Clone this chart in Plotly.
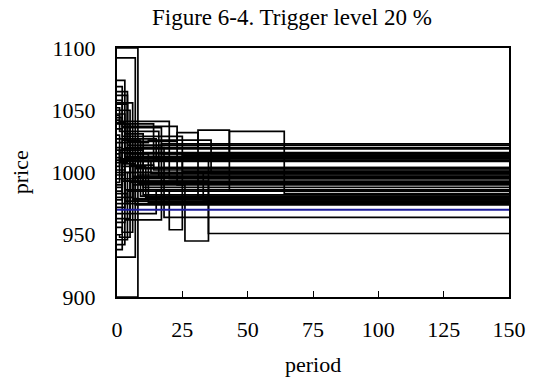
import plotly.graph_objects as go

# Each black series: switch periods and the price held from that period on (held until period 150)
switch_periods = [
    [0, 8], [0, 7], [0, 3], [0, 2], [0, 4], [0, 6], [0, 5],
    [0, 1, 20], [0, 2, 23], [0, 4, 23, 31], [0, 3, 31, 43], [0, 5, 43, 64],
    [0, 2, 25], [0, 15], [0, 12, 36],
    [0, 8], [0, 7], [0, 2], [0, 3], [0, 4], [0, 1, 5], [0, 2, 6], [0, 5],
    [0, 15], [0, 3, 17], [0, 4, 20, 25], [0, 6, 26, 35], [0, 3, 35], [0, 2, 33],
    [0, 1, 10], [0, 2, 9], [0, 1, 6], [0, 3, 12], [0, 2, 7], [0, 5, 14],
    [0, 4, 18], [0, 1], [0, 2], [0, 1, 8], [0, 3], [0, 2, 11], [0, 4], [0, 6],
    [0, 1, 13], [0, 3], [0, 2],
    [0, 1, 14], [0, 2, 17], [0, 3, 10], [0, 1, 16], [0, 4, 9],
]
prices = [
    [1100, 1000], [1092, 1004], [1074, 1013], [1069, 1019], [1062, 1009], [1056, 996], [1050, 992],
    [1046, 1041, 995], [1044, 1037, 990], [1055, 1025, 1032, 980], [1047, 1020, 1034, 986], [1039, 1010, 1033, 983],
    [1035, 1029, 1001], [1027, 1010], [1024, 1026, 999],
    [900, 998], [932, 1003], [938, 1016], [942, 1012], [946, 1000], [950, 948, 1020], [956, 952, 997], [963, 1015],
    [967, 985], [960, 962, 1023], [975, 985, 954, 1014], [980, 990, 945, 1012], [972, 993, 951], [985, 1000, 978],
    [1005, 1018, 982], [1012, 1026, 1022], [1018, 1010, 979], [995, 1015, 976], [990, 1007, 974], [1000, 1006, 1004],
    [1008, 1020, 964], [1015, 1011], [1020, 993], [1030, 1016, 991], [998, 986], [978, 1005, 980], [983, 975], [1010, 978],
    [992, 1009, 999], [1002, 977], [988, 995],
    [1052, 1039, 1002], [1058, 1036, 1015], [1040, 1031, 988], [1042, 1033, 996], [1065, 1022, 981],
]
blue_periods = [0, 150]
blue_prices = [970, 970]

last_period = 150
x_ticks = [0, 25, 50, 75, 100, 125, 150]
y_ticks = [900, 950, 1000, 1050, 1100]

fig = go.Figure()
for per, pr in zip(switch_periods, prices):
    fig.add_trace(go.Scatter(
        x=per + [last_period], y=pr + [pr[-1]],
        mode="lines", line=dict(color="black", width=1.7, shape="hv"),
        showlegend=False, hoverinfo="skip"))
fig.add_trace(go.Scatter(
    x=blue_periods, y=blue_prices, mode="lines",
    line=dict(color="#1c1c9c", width=2), showlegend=False, hoverinfo="skip"))

font = "Liberation Serif"
fig.update_layout(
    width=538, height=380,
    margin=dict(l=117, r=26, t=48, b=83),
    paper_bgcolor="white", plot_bgcolor="white",
    font=dict(family=font, color="black", size=22),
    xaxis=dict(range=[0, 150], tickvals=x_ticks, ticks="inside", ticklen=6,
               tickcolor="black", tickwidth=1, showline=True, linecolor="black",
               linewidth=2, mirror=True, showgrid=False, zeroline=False,
               ticklabelstandoff=12, tickfont=dict(size=22, family=font)),
    yaxis=dict(range=[900, 1100], tickvals=y_ticks, ticks="inside", ticklen=6,
               tickcolor="black", tickwidth=1, showline=True, linecolor="black",
               linewidth=2, mirror=True, showgrid=False, zeroline=False,
               ticklabelstandoff=15, tickfont=dict(size=22, family=font)),
    annotations=[
        dict(text="Figure 6-4. Trigger level 20 %", xref="paper", yref="paper",
             x=0.446, y=1 + (48 - 17) / 249, xanchor="center", yanchor="middle",
             showarrow=False, font=dict(size=23, family=font)),
        dict(text="price", xref="paper", yref="paper", x=(20 - 117) / 395, y=0.5,
             xanchor="center", yanchor="middle", textangle=-90,
             showarrow=False, font=dict(size=22, family=font)),
        dict(text="period", xref="paper", yref="paper", x=0.5, y=-(364 - 297) / 249,
             xanchor="center", yanchor="middle",
             showarrow=False, font=dict(size=22, family=font)),
    ],
)
fig.write_html("out.html")
